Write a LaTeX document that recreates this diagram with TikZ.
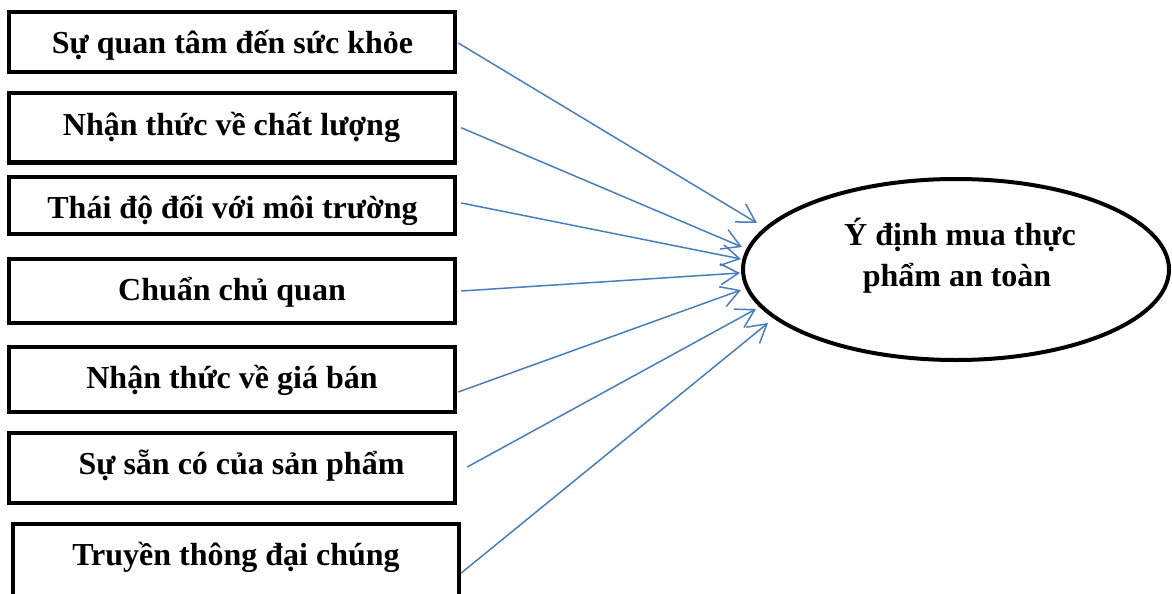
\documentclass[tikz,border=0pt]{standalone}
\usepackage{fontspec}
\setmainfont{Liberation Serif}
\usetikzlibrary{shapes.geometric,arrows.meta,calc}
\definecolor{linkblue}{RGB}{74,126,187}
\tikzset{
  factor/.style={draw=black, line width=4.5pt, minimum width=446pt, inner sep=0pt},
  caption/.style={anchor=base, inner sep=0pt, font=\fontsize{32}{38}\selectfont\bfseries},
  goalshape/.style={draw=black, ellipse, line width=4pt, minimum width=426pt, minimum height=181pt, inner sep=0pt},
  link/.style={draw=linkblue, line width=1.5pt, -{Straight Barb[length=18pt,width=21pt,line width=1.5pt]}}
}
\begin{document}
\begin{tikzpicture}[x=1pt, y=-1pt]
\clip (0,0) rectangle (1172,594);
\fill[white] (0,0) rectangle (1172,594);

% factor boxes
\node[factor, minimum height=60pt]   (b1) at (232,42)     {};
\node[factor, minimum height=69.5pt] (b2) at (232,127.75) {};
\node[factor, minimum height=57pt]   (b3) at (232,205.5)  {};
\node[factor, minimum height=64pt]   (b4) at (232,291)    {};
\node[factor, minimum height=65pt]   (b5) at (232,379.5)  {};
\node[factor, minimum height=70pt]   (b6) at (232,468)    {};
\node[factor, minimum height=76pt]   (b7) at (236,562)    {};

% factor labels
\node[caption] (t1) at (232.5,53)  {Sự quan tâm đến sức khỏe};
\node[caption] (t2) at (231.5,135) {Nhận thức về chất lượng};
\node[caption] (t3) at (232.5,218) {Thái độ đối với môi trường};
\node[caption] (t4) at (232,300)   {Chuẩn chủ quan};
\node[caption] (t5) at (232,388)   {Nhận thức về giá bán};
\node[caption] (t6) at (241.5,474) {Sự sẵn có của sản phẩm};
\node[caption] (t7) at (236,565)   {Truyền thông đại chúng};

% outcome
\node[goalshape] (goal) at (956,269.5) {};
\node[caption] (g1) at (960,245) {Ý định mua thực};
\node[caption] (g2) at (957,286) {phẩm an toàn};

% influences
\draw[link] ($(b1.east)+(1,1)$)    -- ($(goal.center)+(-199,-46.5)$);
\draw[link] ($(b2.east)+(4,0)$)    -- ($(goal.center)+(-214,-22.5)$);
\draw[link] ($(b3.east)+(4,-2.5)$) -- ($(goal.center)+(-215,-10.5)$);
\draw[link] ($(b4.east)+(4,0)$)    -- ($(goal.center)+(-216,3.5)$);
\draw[link] ($(b5.east)+(1,12.5)$) -- ($(goal.center)+(-215,20.5)$);
\draw[link] ($(b6.east)+(10,-1)$)  -- ($(goal.center)+(-200,39.5)$);
\draw[link] ($(b7.east)+(0,11)$)   -- ($(goal.center)+(-188,53.5)$);
\end{tikzpicture}
\end{document}
